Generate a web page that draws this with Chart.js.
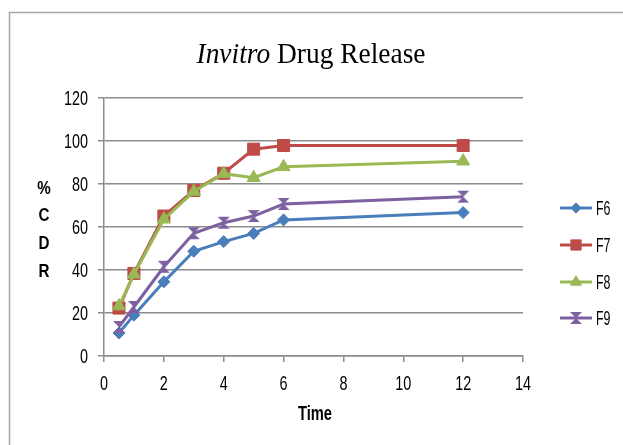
<!DOCTYPE html>
<html>
<head>
<meta charset="utf-8">
<script src="https://cdn.jsdelivr.net/npm/chart.js@4"></script>
<style>
html,body{margin:0;padding:0;background:#fff;}
#wrap{position:relative;width:623px;height:445px;}
canvas{display:block;}
</style>
</head>
<body>
<div id="wrap"><canvas id="c" width="623" height="445"></canvas></div>
<script>
// ---- data ----
const times = [0.5, 1, 2, 3, 4, 5, 6, 12];
const seriesNames = ['F6', 'F7', 'F8', 'F9'];
const f6 = [10.7, 19, 34.5, 48.7, 53.2, 57, 63.3, 66.7];
const f7 = [22.3, 38.4, 65.1, 77, 85, 96.2, 97.9, 97.9];
const f8 = [23.2, 38, 63.6, 76.5, 84.8, 82.9, 88, 90.6];
const f9 = [13.5, 22.8, 41.5, 57.1, 62, 65.1, 70.7, 74.1];
const xTicks = [0, 2, 4, 6, 8, 10, 12, 14];
const yTicks = [0, 20, 40, 60, 80, 100, 120];
const titleItalic = 'Invitro';
const titleRest = ' Drug Release';
const xTitle = 'Time';
const yTitleLetters = ['%', 'C', 'D', 'R'];

const colors = ['#4a7ebb', '#be4b48', '#98b954', '#7d60a0'];
const SANS = '"Liberation Sans", Arial, sans-serif';

// custom X marker with bars (Excel style) for F9
function makeXMarker(color) {
  const c = document.createElement('canvas');
  c.width = 14; c.height = 14;
  const g = c.getContext('2d');
  g.fillStyle = color;
  g.beginPath();
  g.moveTo(1, 1); g.lineTo(13, 1); g.lineTo(7, 7); g.lineTo(13, 13); g.lineTo(1, 13); g.lineTo(7, 7); g.closePath();
  g.fill();
  return c;
}
const xMarker = makeXMarker(colors[3]);

const allSeries = [f6, f7, f8, f9];
const styles = ['rectRot', 'rect', 'triangle', xMarker];
const radii = [6, 8.5, 7.5, 7];

const datasets = allSeries.map((vals, i) => ({
  label: seriesNames[i],
  data: times.map((t, j) => ({x: t, y: vals[j]})),
  borderColor: colors[i],
  backgroundColor: colors[i],
  pointBackgroundColor: colors[i],
  pointBorderColor: colors[i],
  pointStyle: styles[i],
  pointRadius: radii[i],
  pointBorderWidth: 1,
  borderWidth: 3,
  tension: 0,
  order: 3 - i
}));

const L = 104, R = 523, T = 98, B = 356, W = 623, H = 445;

function narrowText(ctx, text, x, y, font, sx, align) {
  ctx.save();
  ctx.font = font;
  ctx.textAlign = align;
  ctx.textBaseline = 'alphabetic';
  ctx.translate(x, y);
  ctx.scale(sx, 1);
  ctx.fillText(text, 0, 0);
  ctx.restore();
}

const decor = {
  id: 'decor',
  beforeDraw(chart) {
    const ctx = chart.ctx;
    ctx.save();
    ctx.fillStyle = '#fff';
    ctx.fillRect(0, 0, W, H);
    ctx.strokeStyle = '#a6a6a6';
    ctx.lineWidth = 1.5;
    ctx.beginPath();
    ctx.moveTo(9.5, H);
    ctx.lineTo(9.5, 12.5);
    ctx.lineTo(W, 12.5);
    ctx.stroke();
    ctx.restore();
  },
  afterDraw(chart) {
    const ctx = chart.ctx;
    const xs = chart.scales.x, ys = chart.scales.y;
    ctx.save();
    ctx.fillStyle = '#000';
    // tick labels (positions from the library scales)
    xTicks.forEach(v => narrowText(ctx, String(v), xs.getPixelForValue(v), 390, '20px ' + SANS, 0.72, 'center'));
    yTicks.forEach(v => narrowText(ctx, String(v), 88, ys.getPixelForValue(v) + 7, '20px ' + SANS, 0.72, 'right'));
    // title (italic + roman, fitted to the reference width)
    const fi = 'italic 30px "Liberation Serif"';
    const fn = '30px "Liberation Serif"';
    ctx.font = fi; const w1 = ctx.measureText(titleItalic).width;
    ctx.font = fn; const w2 = ctx.measureText(titleRest).width;
    const sx = 229 / (w1 + w2);
    ctx.save();
    ctx.translate(311 - 229 / 2, 63);
    ctx.scale(sx, 1);
    ctx.textAlign = 'left'; ctx.textBaseline = 'alphabetic';
    ctx.font = fi; ctx.fillText(titleItalic, 0, 0);
    ctx.font = fn; ctx.fillText(titleRest, w1, 0);
    ctx.restore();
    // y title stacked
    const yl = [187, 214, 242, 270];
    yTitleLetters.forEach((ch, i) => narrowText(ctx, ch, 44, yl[i] + 7, 'bold 19px ' + SANS, 0.8, 'center'));
    // x title
    narrowText(ctx, xTitle, 315, 420, 'bold 21px ' + SANS, 0.7, 'center');
    // legend
    const ly = [208, 245, 282, 318];
    chart.data.datasets.forEach((ds, i) => {
      const y = ly[i];
      ctx.strokeStyle = ds.borderColor; ctx.fillStyle = ds.borderColor; ctx.lineWidth = 3;
      ctx.beginPath(); ctx.moveTo(560, y); ctx.lineTo(592, y); ctx.stroke();
      ctx.lineWidth = 1;
      Chart.helpers.drawPoint(ctx, {pointStyle: ds.pointStyle, radius: ds.pointRadius * 0.85, borderWidth: 1, rotation: 0}, 576, y);
      ctx.fillStyle = '#000';
      narrowText(ctx, ds.label, 596, y + 7, '20px ' + SANS, 0.62, 'left');
    });
    ctx.restore();
  }
};

new Chart(document.getElementById('c'), {
  type: 'line',
  data: { datasets },
  options: {
    responsive: false,
    animation: false,
    events: [],
    layout: { padding: { left: 0, right: W - R, top: T, bottom: 0 } },
    plugins: { legend: { display: false }, title: { display: false }, tooltip: { enabled: false } },
    scales: {
      x: {
        type: 'linear', min: 0, max: 14,
        afterBuildTicks(s) { s.ticks = xTicks.map(v => ({value: v})); },
        afterFit(s) { s.height = H - B; },
        grid: { drawOnChartArea: false, drawTicks: true, tickLength: 6, color: '#8c8c8c', lineWidth: 1.5 },
        border: { color: '#8c8c8c', width: 1.5 },
        ticks: { display: false }
      },
      y: {
        min: 0, max: 120,
        afterBuildTicks(s) { s.ticks = yTicks.map(v => ({value: v})); },
        afterFit(s) { s.width = L; },
        grid: { drawOnChartArea: true, drawTicks: true, tickLength: 6, color: '#8c8c8c', lineWidth: 1.5 },
        border: { color: '#8c8c8c', width: 1.5 },
        ticks: { display: false }
      }
    }
  },
  plugins: [decor]
});
</script>
</body>
</html>
